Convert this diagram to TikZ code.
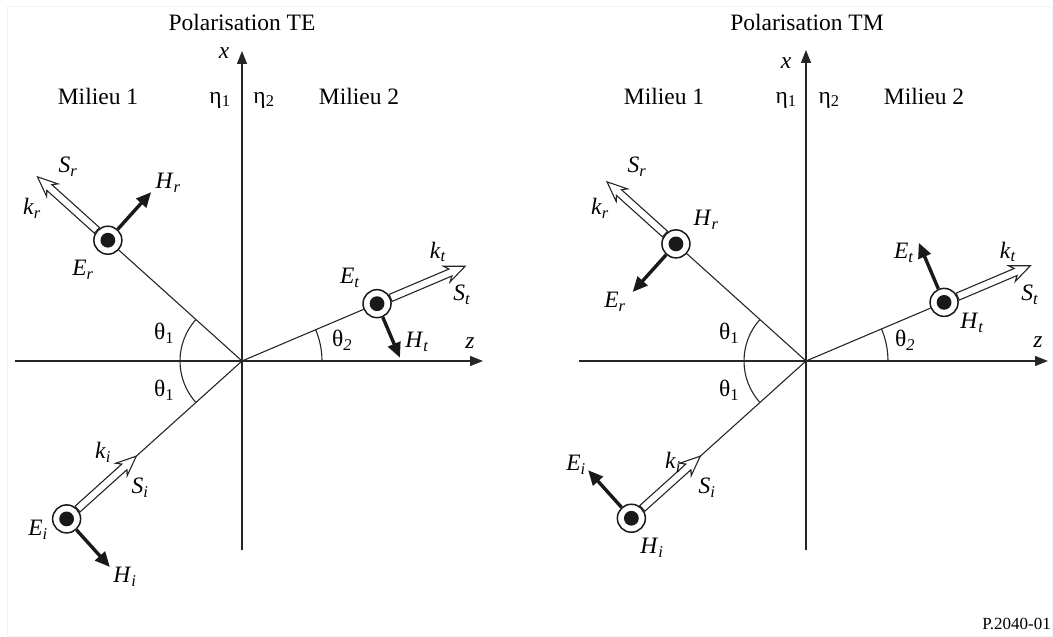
\documentclass[tikz,border=0pt]{standalone}
\usepackage{fontspec}
\setmainfont{Liberation Serif}
\usetikzlibrary{arrows.meta,calc}
\newcommand\lab[2]{\textit{#1}\textsubscript{\textit{#2}}}
\begin{document}
\begin{tikzpicture}[x=1pt,y=1pt,
  every node/.style={font=\fontsize{23.5}{28}\selectfont, inner sep=0pt},
  axis/.style={draw=black!85, line width=1.4pt, -{Triangle[length=13pt,width=10pt]}},
  axisline/.style={draw=black!85, line width=1.4pt},
  ray/.style={draw=black!85, line width=1.1pt},
  anglearc/.style={draw=black!85, line width=1.1pt},
  bold/.style={draw=black!90, line width=3.4pt, -{Triangle[length=15pt,width=13pt]}},
  wavept/.style={circle, draw=black!90, fill=white, line width=1.5pt, minimum size=28pt, inner sep=0pt,
     path picture={\fill[black!90] (path picture bounding box.center) circle (7.4pt);}},
  hollowline/.style={draw=black!85, fill=white, line width=1.1pt, line join=miter},
  pics/hollow/.style={code={\draw[hollowline] (0,-3.8) -- (#1-16,-3.8) -- (#1-20,-8.5) -- (#1,0) -- (#1-20,8.5) -- (#1-16,3.8) -- (0,3.8) -- cycle;}}
]
\useasboundingbox (0,0) rectangle (1053,637);
\draw[black!5, line width=1pt] (7,0.5) rectangle (1052.5,630);

% ================= TE =================
\coordinate (AO) at (242,276);
\node (Atitle) at (242,615) {Polarisation TE};
\coordinate (Axb) at (242,87);
\coordinate (Axt) at (242,586);
\coordinate (Azl) at (15,276);
\coordinate (Azr) at (483,276);
\draw[axisline] (Axb) -- (AO);
\draw[axis] (AO) -- (Axt);
\draw[axis] (Azl) -- (Azr);
\node (Axl) at (224,584) {\textit{x}};
\node (Azlab) at (470,294) {\textit{z}};
\node (Aeta1) at (220,537) {η\textsubscript{1}};
\node (Aeta2) at (264,537) {η\textsubscript{2}};
\node (Am1) at (98,541) {Milieu 1};
\node (Am2) at (359,541) {Milieu 2};

\path (AO) ++(138:180.5) node[wavept] (ACr) {};
\path (AO) ++(222:236) node[wavept] (ACi) {};
\path (AO) ++(23:146.7) node[wavept] (ACt) {};
\draw[ray] (AO) -- (ACr);
\draw[ray] (ACi) -- (AO);
\draw[ray] (AO) -- (ACt);
\draw[anglearc] (AO) ++(138:62) arc (138:222:62);
\draw[anglearc] (AO) ++(0:80) arc (0:23:80);
\pic[rotate=138] at (ACr.138) {hollow=80};
\pic[rotate=42] at (ACi.42) {hollow=79};
\pic[rotate=23] at (ACt.23) {hollow=81};
\draw[bold] (ACr.48) -- ++(48:50);
\draw[bold] (ACi.-48) -- ++(-48:50);
\draw[bold] (ACt.-67) -- ++(-67:44);

\node (ASr) at (68,470) {\lab{S}{r}};
\node (Akr) at (32,429) {\lab{k}{r}};
\node (AHr) at (168,454) {\lab{H}{r}};
\node (AEr) at (83,367) {\lab{E}{r}};
\node (AEt) at (350,359) {\lab{E}{t}};
\node (Akt) at (438,385) {\lab{k}{t}};
\node (ASt) at (462,342) {\lab{S}{t}};
\node (AHt) at (417,295) {\lab{H}{t}};
\node (Ath1) at (164,304) {θ\textsubscript{1}};
\node (Ath1b) at (164,247) {θ\textsubscript{1}};
\node (Ath2) at (342,297) {θ\textsubscript{\textit{2}}};
\node (Aki) at (103,185) {\lab{k}{i}};
\node (ASi) at (140,149) {\lab{S}{i}};
\node (AEi) at (38,107) {\lab{E}{i}};
\node (AHi) at (125,60) {\lab{H}{i}};

% ================= TM =================
\coordinate (BO) at (806,276);
\node (Btitle) at (807,615) {Polarisation TM};
\coordinate (Bxb) at (806,87);
\coordinate (Bxt) at (806,587);
\coordinate (Bzl) at (579,276);
\coordinate (Bzr) at (1048,276);
\draw[axisline] (Bxb) -- (BO);
\draw[axis] (BO) -- (Bxt);
\draw[axis] (Bzl) -- (Bzr);
\node (Bxl) at (786,574) {\textit{x}};
\node (Bzlab) at (1038,295) {\textit{z}};
\node (Beta1) at (786,537) {η\textsubscript{1}};
\node (Beta2) at (829,537) {η\textsubscript{2}};
\node (Bm1) at (664,541) {Milieu 1};
\node (Bm2) at (924,541) {Milieu 2};

\path (BO) ++(138:175) node[wavept] (BCr) {};
\path (BO) ++(222:235) node[wavept] (BCi) {};
\path (BO) ++(23:150) node[wavept] (BCt) {};
\draw[ray] (BO) -- (BCr);
\draw[ray] (BCi) -- (BO);
\draw[ray] (BO) -- (BCt);
\draw[anglearc] (BO) ++(138:62) arc (138:222:62);
\draw[anglearc] (BO) ++(0:82) arc (0:23:82);
\pic[rotate=138] at (BCr.138) {hollow=78};
\pic[rotate=42] at (BCi.42) {hollow=78};
\pic[rotate=23] at (BCt.23) {hollow=79};
\draw[bold] (BCr.228) -- ++(228:50);
\draw[bold] (BCt.113) -- ++(113:50);
\draw[bold] (BCi.132) -- ++(132:50);

\node (BSr) at (637,470) {\lab{S}{r}};
\node (Bkr) at (600,429) {\lab{k}{r}};
\node (BHr) at (706,417) {\lab{H}{r}};
\node (BEr) at (615,335) {\lab{E}{r}};
\node (BEt) at (904,384) {\lab{E}{t}};
\node (Bkt) at (1008,385) {\lab{k}{t}};
\node (BSt) at (1030,342) {\lab{S}{t}};
\node (BHt) at (972,314) {\lab{H}{t}};
\node (Bth1) at (729,304) {θ\textsubscript{1}};
\node (Bth1b) at (729,247) {θ\textsubscript{1}};
\node (Bth2) at (905,297) {θ\textsubscript{\textit{2}}};
\node (Bki) at (673,175) {\lab{k}{i}};
\node (BSi) at (707,149) {\lab{S}{i}};
\node (BEi) at (576,172) {\lab{E}{i}};
\node (BHi) at (652,89) {\lab{H}{i}};

\node[anchor=east, font=\fontsize{17}{20}\selectfont] (ref) at (1051,13) {P.2040-01};
\end{tikzpicture}
\end{document}
